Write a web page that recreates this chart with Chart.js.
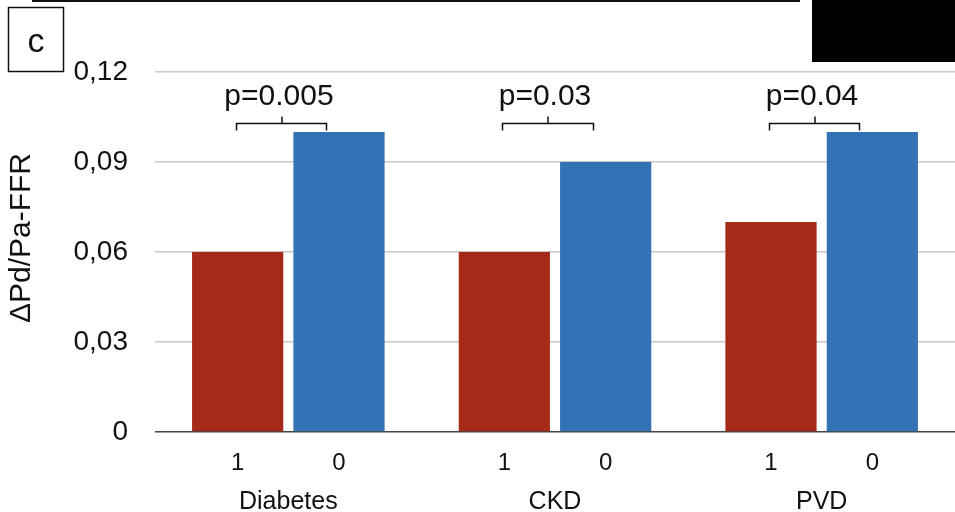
<!DOCTYPE html>
<html>
<head>
<meta charset="utf-8">
<script src="https://cdn.jsdelivr.net/npm/chart.js@4"></script>
<style>
  body { margin: 0; background: #fff; }
  canvas { display: block; }
</style>
</head>
<body>
<canvas id="chart" width="955" height="512"></canvas>
<script>
// groups and bar values
var categories = ['Diabetes', 'CKD', 'PVD'];
var subLabels = ['1', '0'];
var withCondition = [0.06, 0.06, 0.07];
var withoutCondition = [0.10, 0.09, 0.10];
var pValues = ['p=0.005', 'p=0.03', 'p=0.04'];
var yTicks = [0, 0.03, 0.06, 0.09, 0.12];
var yTitle = '\u0394Pd/Pa-FFR';

var FONT = '"Liberation Sans", Arial, Helvetica, sans-serif';
var BRACKET_Y = 0.1030; // height of the p-value brackets on the y scale
var PTEXT_Y = 0.1117;

// labels "1"/"0" under each bar, brackets with p values, panel decorations
var annotations = {
    id: 'annotations',
    afterDraw: function(chart) {
        var ctx = chart.ctx;
        var y = chart.scales.y;
        var area = chart.chartArea;
        ctx.save();

        // sub labels under bars
        ctx.fillStyle = '#111';
        ctx.font = '24px ' + FONT;
        ctx.textAlign = 'center';
        ctx.textBaseline = 'middle';
        for (var d = 0; d < 2; d++) {
            chart.getDatasetMeta(d).data.forEach(function(bar) {
                ctx.fillText(subLabels[d], bar.x, area.bottom + 31);
            });
        }

        // brackets
        var by = Math.round(y.getPixelForValue(BRACKET_Y)) + 0.5;
        var ty = y.getPixelForValue(PTEXT_Y);
        ctx.strokeStyle = '#111';
        ctx.lineWidth = 1.5;
        ctx.font = '30px ' + FONT;
        categories.forEach(function(c, i) {
            var x1 = Math.round(chart.getDatasetMeta(0).data[i].x - 2) + 0.5;
            var x2 = Math.round(chart.getDatasetMeta(1).data[i].x - 13) + 0.5;
            var xm = Math.round((x1 + x2) / 2);
            ctx.beginPath();
            ctx.moveTo(x1, by + 7);
            ctx.lineTo(x1, by);
            ctx.lineTo(x2, by);
            ctx.lineTo(x2, by + 7);
            ctx.moveTo(xm, by);
            ctx.lineTo(xm, by - 7);
            ctx.stroke();
            ctx.fillText(pValues[i], xm - 3, ty);
        });

        // y axis title
        ctx.save();
        ctx.translate(22, 238);
        ctx.rotate(-Math.PI / 2);
        ctx.font = '30px ' + FONT;
        ctx.fillText(yTitle, 0, 0);
        ctx.restore();

        // rule across the top
        ctx.strokeStyle = '#111';
        ctx.lineWidth = 2;
        ctx.beginPath();
        ctx.moveTo(32, 1);
        ctx.lineTo(800, 1);
        ctx.stroke();

        // panel letter box
        ctx.lineWidth = 1.5;
        ctx.strokeRect(8.5, 7.5, 55, 64);
        ctx.font = '34px ' + FONT;
        ctx.fillText('c', 36, 43);

        // black block at top right
        ctx.fillStyle = '#000';
        ctx.fillRect(812, 0, 143, 62);
        ctx.restore();
    }
};

var chart = new Chart(document.getElementById('chart'), {
    type: 'bar',
    data: {
        labels: categories,
        datasets: [{
            label: subLabels[0],
            data: withCondition,
            backgroundColor: '#A52A18',
            categoryPercentage: 0.76,
            barPercentage: 0.90
        }, {
            label: subLabels[1],
            data: withoutCondition,
            backgroundColor: '#3373B5',
            categoryPercentage: 0.76,
            barPercentage: 0.90
        }]
    },
    options: {
        responsive: false,
        animation: false,
        layout: { padding: { top: 72, left: 6, right: 0, bottom: 0 } },
        plugins: {
            legend: { display: false },
            tooltip: { enabled: false }
        },
        scales: {
            x: {
                grid: { display: false },
                border: { display: false },
                ticks: {
                    color: '#111',
                    font: { family: FONT, size: 25 },
                    padding: 47
                },
                afterFit: function(s) { s.height = 80; }
            },
            y: {
                min: 0,
                max: 0.12,
                afterBuildTicks: function(s) {
                    s.ticks = yTicks.map(function(v) { return { value: v }; });
                },
                grid: {
                    drawTicks: false,
                    lineWidth: 1.5,
                    color: function(c) { return c.tick && c.tick.value === 0 ? '#444' : '#c8c8c8'; }
                },
                border: { display: false },
                ticks: {
                    color: '#111',
                    padding: 27,
                    font: { family: FONT, size: 28 },
                    callback: function(v) { return v === 0 ? '0' : v.toFixed(2).replace('.', ','); }
                },
                afterFit: function(s) { s.width = 149; }
            }
        }
    },
    plugins: [annotations]
});
</script>
</body>
</html>
